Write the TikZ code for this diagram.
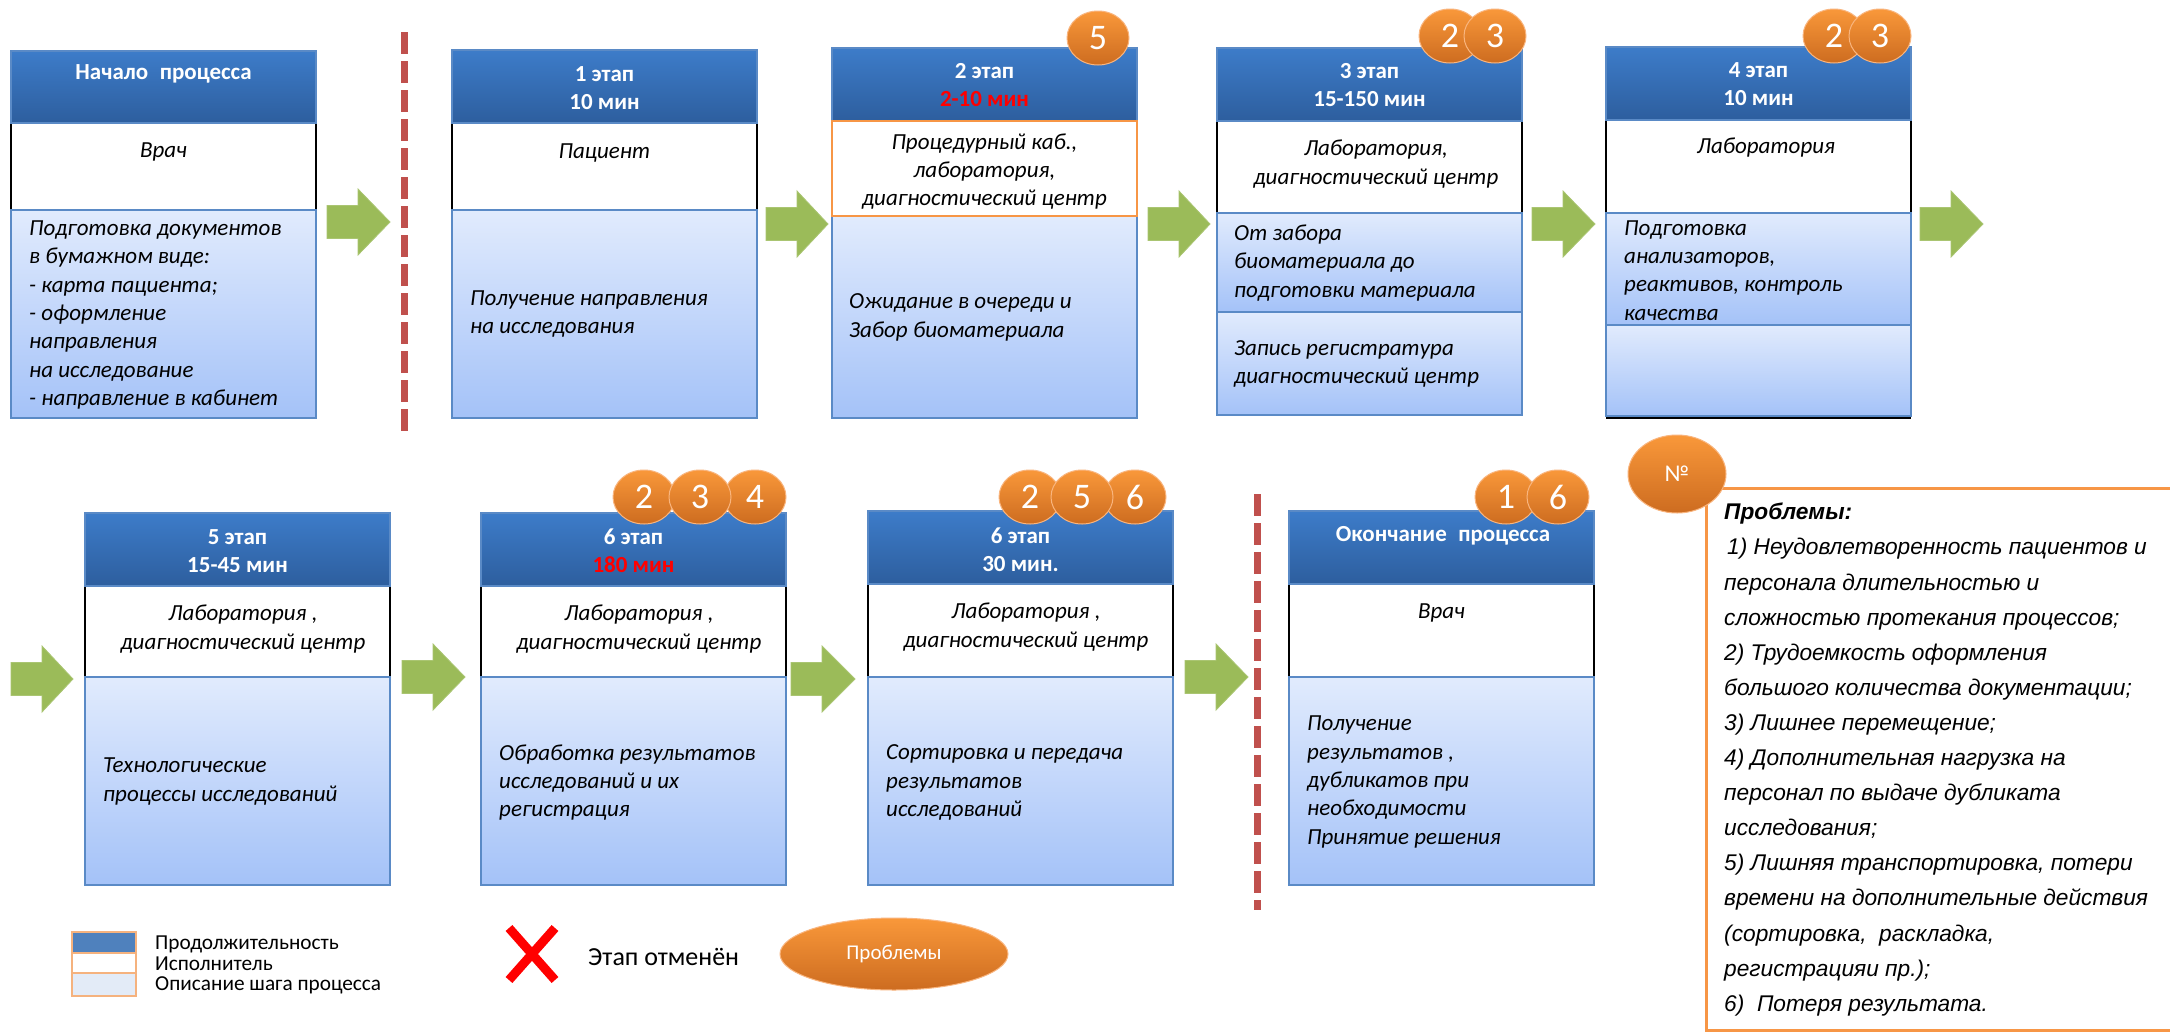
\documentclass[tikz,border=0pt]{standalone}
\usepackage{fontspec}
\setmainfont{Carlito}
\newfontfamily\arialf{Liberation Sans}
\usetikzlibrary{shapes.geometric}
\definecolor{hdrtop}{HTML}{3D7CC9}
\definecolor{hdrbot}{HTML}{2D5E9E}
\definecolor{desctop}{HTML}{E1EBFD}
\definecolor{descbot}{HTML}{A4C2F8}
\definecolor{boxline}{HTML}{5A8AC6}
\definecolor{agreen}{HTML}{9BBB59}
\definecolor{dred}{HTML}{C0504D}
\definecolor{otop}{HTML}{F9983A}
\definecolor{obot}{HTML}{CD6C20}
\definecolor{oline}{HTML}{F79646}
\definecolor{legdark}{HTML}{4F81BD}
\definecolor{leglight}{HTML}{E3EBF7}
\definecolor{legline}{HTML}{F5B27E}
\definecolor{hred}{HTML}{FF0000}
\tikzset{
  hdrbox/.style={top color=hdrtop, bottom color=hdrbot, draw=boxline, line width=1.2pt},
  descbox/.style={top color=desctop, bottom color=descbot, draw=boxline, line width=1.5pt},
  execside/.style={draw=black, line width=1.3pt},
  htext/.style={text=white, font=\fontsize{23}{28}\selectfont\bfseries, align=center, inner sep=0pt},
  etext/.style={font=\fontsize{23}{28.3}\selectfont\itshape, align=center, inner sep=0pt},
  dtext/.style={font=\fontsize{23}{28.3}\selectfont\itshape, align=left, anchor=west, inner sep=0pt},
  badge/.style={ellipse, minimum width=62pt, minimum height=54pt, top color=otop, bottom color=obot,
    draw=oline!70!white, line width=1pt, text=white, font=\fontsize{36}{36}\selectfont, inner sep=0pt},
  garrow/.style={fill=agreen, draw=agreen!85!white, line width=0.8pt},
  redline/.style={draw=dred, line width=7pt, dash pattern=on 22pt off 7pt},
  legcell/.style={draw=legline, line width=1.5pt},
  legtext/.style={font=\fontsize{21.3}{20}\selectfont, anchor=west, inner sep=0pt},
}
% x, top, header bottom, exec bottom, bottom
\newcommand\stagebox[5]{%
  \path[fill=white] (#1,#3) rectangle (#1+305,#4);
  \draw[execside] (#1,#3) -- (#1,#4) (#1+305,#3) -- (#1+305,#4);
  \path[hdrbox] (#1,#2) rectangle (#1+305,#3);
  \path[descbox] (#1,#4) rectangle (#1+305,#5);
}
% x, top, header bottom, exec bottom, sub bottom, bottom
\newcommand\stageboxtwo[6]{%
  \path[fill=white] (#1,#3) rectangle (#1+305,#4);
  \draw[execside] (#1,#3) -- (#1,#4) (#1+305,#3) -- (#1+305,#4);
  \path[hdrbox] (#1,#2) rectangle (#1+305,#3);
  \path[descbox] (#1,#4) rectangle (#1+305,#5);
  \path[descbox] (#1,#5) rectangle (#1+305,#6);
}
% x left, x right, y centre
\newcommand\greenarrow[3]{%
  \path[garrow] (#1,#3-16.5) -- (#1+31,#3-16.5) -- (#1+31,#3-33) -- (#2,#3)
    -- (#1+31,#3+33) -- (#1+31,#3+16.5) -- (#1,#3+16.5) -- cycle;
}
\begin{document}
\begin{tikzpicture}[x=1pt,y=-1pt]
\useasboundingbox (0,0) rectangle (2170,1034);
\fill[white] (0,0) rectangle (2170,1034);

% ---------- row 1 ----------
\stagebox{11}{51}{123}{210}{418}
\stagebox{452}{50}{123}{210}{418}
\stagebox{832}{48}{121}{216}{418}
\draw[oline, line width=1.5pt] (832,121) rectangle (1137,216);
\stageboxtwo{1217}{48}{121}{213}{312}{415}
\draw[black, line width=1.5pt] (1606,418) -- (1911,418);
\stageboxtwo{1606}{47}{120}{213}{325}{416}

\greenarrow{327}{390}{222}
\greenarrow{766}{828}{224}
\greenarrow{1148}{1210}{224}
\greenarrow{1532}{1595}{224}
\greenarrow{1920}{1983}{224}

\draw[redline] (404,32) -- (404,434);

\node[htext] (t0h) at (163.5,74) {Начало\enspace процесса};
\node[etext] (t0e) at (163.5,152) {Врач};
\node[dtext] (t0d) at (29,315) {Подготовка документов\\в бумажном виде:\\- карта пациента;\\- оформление\\направления\\на исследование\\- направление в кабинет};

\node[htext] (t1h) at (604.5,88) {1 этап\\10 мин};
\node[etext] (t1e) at (604.5,153) {Пациент};
\node[dtext] (t1d) at (470,314) {Получение направления\\на исследования};

\node[htext] (t2h) at (984.5,85) {2 этап\\\textcolor{hred}{2-10 мин}};
\node[etext] (t2e) at (984.5,171.5) {Процедурный каб.,\\лаборатория,\\диагностический центр};
\node[dtext] (t2d) at (849,317.5) {Ожидание в очереди и\\Забор биоматериала};

\node[htext] (t3h) at (1369.5,85) {3 этап\\15-150 мин};
\node[etext] (t3e) at (1376,164) {Лаборатория,\\диагностический центр};
\node[dtext] (t3d) at (1234,263) {От забора\\биоматериала до\\подготовки материала};
\node[dtext] (t3f) at (1234,364) {Запись регистратура\\диагностический центр};

\node[htext] (t4h) at (1758.5,84.5) {4 этап\\10 мин};
\node[etext] (t4e) at (1766,148) {Лаборатория};
\node[dtext] (t4d) at (1624,270.5) {Подготовка\\анализаторов,\\реактивов, контроль\\качества};

\node[badge] (p2a) at (1098,38) {5};
\node[badge] (p3a) at (1450,36) {2};
\node[badge] (p3b) at (1495,36) {3};
\node[badge] (p4a) at (1834,36) {2};
\node[badge] (p4b) at (1880,36) {3};

% ---------- row 2 ----------
\stagebox{85}{513}{586}{677}{885}
\stagebox{481}{513}{586}{677}{885}
\stagebox{868}{511}{584}{677}{885}
\stagebox{1289}{511}{584}{677}{885}

\greenarrow{11}{73}{679}
\greenarrow{402}{465}{677}
\greenarrow{791}{855}{679}
\greenarrow{1185}{1248}{677}

\draw[redline] (1257,494) -- (1257,910);

\node[htext] (t5h) at (237.5,551) {5 этап\\15-45 мин};
\node[etext] (t5e) at (243,629) {Лаборатория ,\\диагностический центр};
\node[dtext] (t5d) at (103,781.5) {Технологические\\процессы исследований};

\node[htext] (t6h) at (633.5,551) {6 этап\\\textcolor{hred}{180 мин}};
\node[etext] (t6e) at (639,629) {Лаборатория ,\\диагностический центр};
\node[dtext] (t6d) at (499,782.5) {Обработка результатов\\исследований и их\\регистрация};

\node[htext] (t7h) at (1020.5,549.5) {6 этап\\30 мин.};
\node[etext] (t7e) at (1026,627) {Лаборатория ,\\диагностический центр};
\node[dtext] (t7d) at (886,782.5) {Сортировка и передача\\результатов\\исследований};

\node[htext] (t8h) at (1443,536) {Окончание\enspace процесса};
\node[etext] (t8e) at (1441.5,613) {Врач};
\node[dtext] (t8d) at (1307,782) {Получение\\результатов ,\\дубликатов при\\необходимости\\Принятие решения};

\node[badge] (p6a) at (644,497) {2};
\node[badge] (p6c) at (755,497) {4};
\node[badge] (p6b) at (700,497) {3};
\node[badge] (p7a) at (1030,497) {2};
\node[badge] (p7c) at (1135,497) {6};
\node[badge] (p7b) at (1082,497) {5};
\node[badge] (p8a) at (1506,497) {1};
\node[badge] (p8b) at (1558,497) {6};

% ---------- problems panel ----------
\draw[oline, line width=3pt] (2175,488) -- (1706,488) -- (1706,1030) -- (2175,1030);
\node[badge, minimum width=98pt, minimum height=78pt, font=\fontsize{24}{24}\selectfont] (pno) at (1677,474) {№};
\node[anchor=north west, inner sep=0pt, align=left, font=\arialf\itshape\fontsize{22.7}{35.1}\selectfont] (ptext) at (1724,503)
 {\textbf{Проблемы:}\\
 \hspace{3pt}1) Неудовлетворенность пациентов и\\
 персонала длительностью и\\
 сложностью протекания процессов;\\
 2) Трудоемкость оформления\\
 большого количества документации;\\
 3) Лишнее перемещение;\\
 4) Дополнительная нагрузка на\\
 персонал по выдаче дубликата\\
 исследования;\\
 5) Лишняя транспортировка, потери\\
 времени на дополнительные действия\\
 (сортировка,\ \ раскладка,\\
 регистрацияи пр.);\\
 6)\ \ Потеря результата.};

% ---------- legend ----------
\path[legcell, fill=legdark] (72,932) rectangle (136,953);
\path[legcell, fill=white] (72,953) rectangle (136,973);
\path[legcell, fill=leglight] (72,973) rectangle (136,996);
\node[legtext] (lg1) at (155,944) {Продолжительность};
\node[legtext] (lg2) at (155,964) {Исполнитель};
\node[legtext] (lg3) at (155,985) {Описание шага процесса};
\draw[hred, line width=9pt] (509,928) -- (555,980) (555,928) -- (509,980);
\node[anchor=west, inner sep=0pt, font=\fontsize{26}{26}\selectfont] (lgx) at (588,957) {Этап отменён};
\node[badge, minimum width=228pt, minimum height=72pt, font=\fontsize{21}{21}\selectfont] (lgp) at (894,954) {Проблемы};
\end{tikzpicture}
\end{document}
